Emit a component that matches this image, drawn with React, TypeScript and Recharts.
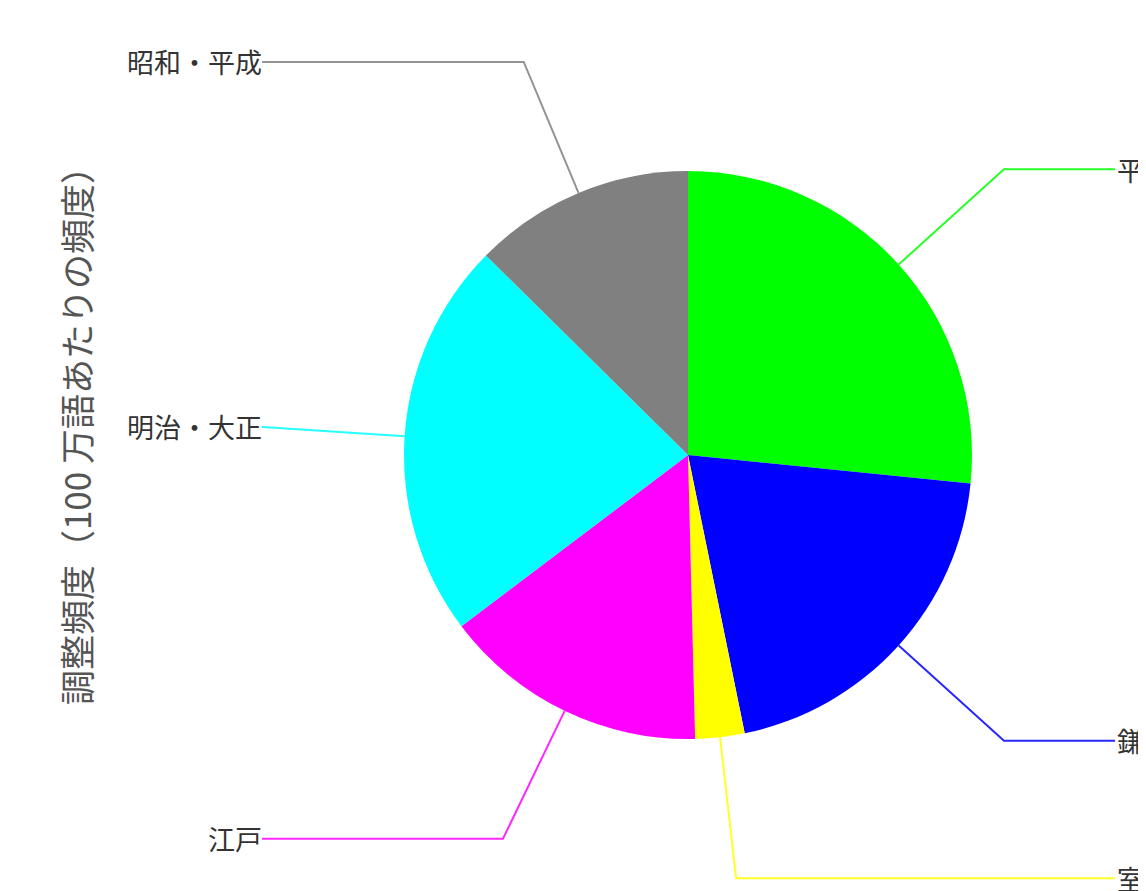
import { Cell, Pie, PieChart } from 'recharts';

const eras = ['平安', '鎌倉', '室町', '江戸', '明治・大正', '昭和・平成'];
const freq = [26.6, 20.2, 2.8, 15.1, 22.7, 12.6];
const colors = ['#00ff00', '#0000ff', '#ffff00', '#ff00ff', '#00ffff', '#808080'];
const yTitle = '調整頻度（100 万語あたりの頻度）';

const data = eras.map((name, i) => ({ name, value: freq[i] }));

const RADIAN = Math.PI / 180;
const LEFT_EDGE = 254;
const RIGHT_EDGE = 1107;
const FONT = '"Noto Sans CJK JP", "Noto Sans", sans-serif';

function EraLabel(props: any) {
  const { cx, cy, midAngle, outerRadius, index } = props;
  const cos = Math.cos(-midAngle * RADIAN);
  const sin = Math.sin(-midAngle * RADIAN);
  const sx = cx + outerRadius * cos;
  const sy = cy + outerRadius * sin;
  const mx = cx + outerRadius * 1.5 * cos;
  const my = cy + outerRadius * 1.5 * sin;
  const right = cos >= 0;
  const ex = right ? RIGHT_EDGE : LEFT_EDGE;
  return (
    <g>
      <polyline
        points={`${sx},${sy} ${mx},${my} ${ex},${my}`}
        fill="none"
        stroke={colors[index]}
        strokeOpacity={0.85}
        strokeWidth={2}
      />
      <text
        x={right ? ex + 2 : ex}
        y={my}
        textAnchor={right ? 'start' : 'end'}
        dominantBaseline="central"
        fontSize={27}
        fontFamily={FONT}
        fill="#333"
      >
        {eras[index]}
      </text>
    </g>
  );
}

export default function App() {
  return (
    <div style={{ position: 'relative', width: 1138, height: 883, overflow: 'hidden' }}>
      <PieChart width={1300} height={883} margin={{ top: 0, right: 0, bottom: 0, left: 0 }}>
        <Pie
          data={data}
          dataKey="value"
          nameKey="name"
          cx={680}
          cy={447}
          outerRadius={284}
          startAngle={90}
          endAngle={-270}
          stroke="none"
          label={EraLabel}
          labelLine={false}
          isAnimationActive={false}
        >
          {data.map((d, i) => (
            <Cell key={d.name} fill={colors[i]} />
          ))}
        </Pie>
      </PieChart>
      <div
        style={{
          position: 'absolute',
          left: 67,
          top: 419,
          transform: 'translate(-50%, -50%) rotate(-90deg)',
          whiteSpace: 'nowrap',
          fontSize: 35,
          fontFamily: FONT,
          color: '#555',
        }}
      >
        {yTitle}
      </div>
    </div>
  );
}
